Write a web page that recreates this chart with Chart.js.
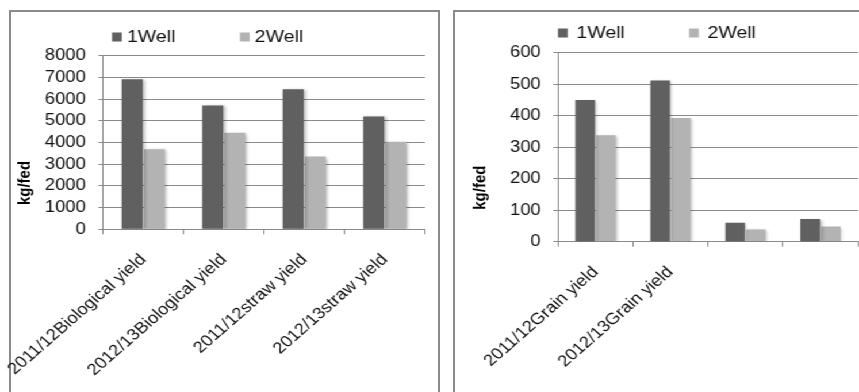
<!DOCTYPE html>
<html>
<head>
<meta charset="utf-8">
<script src="https://cdn.jsdelivr.net/npm/chart.js@4/dist/chart.umd.min.js"></script>
<style>
  html, body { margin: 0; padding: 0; background: #fff; overflow: hidden; width: 859px; height: 392px; }
  .panel { position: absolute; border: 2px solid #8a8a8a; box-sizing: border-box; }
  /* the two charts are drawn a little narrow and widened as a whole */
  #stage { position: absolute; left: 0; top: 0; width: 760px; height: 392px; transform: scaleX(1.15); transform-origin: 0 0; }
  #stage canvas { position: absolute; }
</style>
</head>
<body>
<div class="panel" style="left:9px; top:10px; width:431px; height:400px;"></div>
<div class="panel" style="left:453px; top:10px; width:420px; height:400px;"></div>
<div id="stage">
  <canvas id="yieldChart" width="378" height="380" style="left:0px; top:12px; width:378px; height:380px;"></canvas>
  <canvas id="grainChart" width="364" height="380" style="left:396px; top:12px; width:364px; height:380px;"></canvas>
</div>
<script>
// Series names
const seriesNames = ['1Well', '2Well'];

// Biological and straw yield (kg/fed)
const yieldCategories = ['2011/12Biological yield', '2012/13Biological yield', '2011/12straw yield', '2012/13straw yield'];
const yieldWell1 = [6920, 5710, 6450, 5200];
const yieldWell2 = [3690, 4450, 3350, 4040];
const yieldAxisMax = 8000;
const yieldAxisStep = 1000;

// Grain yield (kg/fed)
const grainCategories = ['2011/12Grain yield', '2012/13Grain yield', '', ''];
const grainWell1 = [450, 512, 60, 72];
const grainWell2 = [338, 393, 39, 48];
const grainAxisMax = 600;
const grainAxisStep = 100;

const axisTitle = 'kg/fed';
const FONT = '"Liberation Sans", Arial, Helvetica, sans-serif';
const DARK = '#606060';
const LIGHT = '#b3b3b3';
const LINE = '#8a8a8a';

Chart.defaults.font.family = FONT;

// Bar shadow, rotated axis title and the legend row above the plot
const decorations = {
  id: 'decorations',
  beforeDatasetsDraw(chart) {
    const ctx = chart.ctx;
    ctx.save();
    ctx.shadowColor = 'rgba(0,0,0,0.28)';
    ctx.shadowBlur = 3;
    ctx.shadowOffsetX = 1.5;
    ctx.shadowOffsetY = 1;
  },
  afterDatasetsDraw(chart) {
    chart.ctx.restore();
  },
  afterDraw(chart, args, opts) {
    const ctx = chart.ctx;
    const a = chart.chartArea;

    ctx.save();
    ctx.font = 'bold ' + opts.titleSize + 'px ' + FONT;
    ctx.fillStyle = '#000';
    ctx.textAlign = 'center';
    ctx.textBaseline = 'middle';
    ctx.translate(a.left - opts.titleGap, (a.top + a.bottom) / 2 + opts.titleDrop);
    ctx.rotate(-Math.PI / 2);
    ctx.fillText(opts.title, 0, 0);
    ctx.restore();

    ctx.save();
    ctx.font = '17px ' + FONT;
    ctx.textBaseline = 'middle';
    ctx.textAlign = 'left';
    const y = a.top - opts.legendRise;
    chart.data.datasets.forEach((ds, i) => {
      const x = a.left + opts.legendX[i];
      ctx.fillStyle = ds.backgroundColor;
      ctx.fillRect(x, y - 4.5, 8.5, 9);
      ctx.fillStyle = '#111';
      ctx.fillText(ds.label, x + opts.legendTextGap, y + 0.5);
    });
    ctx.restore();
  }
};

function makeChart(id, labels, well1, well2, axisMax, axisStep, frame, deco) {
  return new Chart(document.getElementById(id), {
    type: 'bar',
    data: {
      labels: labels,
      datasets: [
        { label: seriesNames[0], data: well1, backgroundColor: DARK, borderWidth: 0 },
        { label: seriesNames[1], data: well2, backgroundColor: LIGHT, borderWidth: 0 }
      ]
    },
    options: {
      responsive: false,
      animation: false,
      devicePixelRatio: 1,
      layout: { padding: { left: 0, top: frame.top, right: frame.right, bottom: 0 } },
      datasets: { bar: { categoryPercentage: 0.55, barPercentage: 0.95 } },
      plugins: {
        legend: { display: false },
        tooltip: { enabled: false },
        decorations: deco
      },
      scales: {
        x: {
          grid: { offset: true, drawOnChartArea: false, drawTicks: true, tickLength: 5, color: LINE },
          border: { color: LINE, width: 1 },
          ticks: { autoSkip: false, minRotation: 45, maxRotation: 45, padding: 16, color: '#111', font: { size: 16 } },
          afterFit(scale) {
            scale.height = frame.xAxisHeight;
            scale.paddingLeft = 0;
            scale.paddingRight = 0;
          }
        },
        y: {
          min: 0,
          max: axisMax,
          ticks: {
            stepSize: axisStep,
            autoSkip: false,
            padding: 11,
            color: '#111',
            font: { size: 16 },
            callback: (v) => String(v)
          },
          grid: { color: LINE, tickLength: 4 },
          border: { color: LINE, width: 1 },
          afterFit(scale) {
            scale.width = frame.yAxisWidth;
          }
        }
      }
    },
    plugins: [decorations]
  });
}

makeChart('yieldChart', yieldCategories, yieldWell1, yieldWell2, yieldAxisMax, yieldAxisStep,
  { top: 43.7, right: 8.4, xAxisHeight: 162.7, yAxisWidth: 89.6 },
  { title: axisTitle, titleSize: 15, titleGap: 67.4, titleDrop: 40.5, legendRise: 18.7, legendX: [7.8, 119], legendTextGap: 13 });

makeChart('grainChart', grainCategories, grainWell1, grainWell2, grainAxisMax, grainAxisStep,
  { top: 40.7, right: 13.9, xAxisHeight: 150.3, yAxisWidth: 89.2 },
  { title: axisTitle, titleSize: 15, titleGap: 66.9, titleDrop: 40.5, legendRise: 19.7, legendX: [0, 114], legendTextGap: 16 });
</script>
</body>
</html>
